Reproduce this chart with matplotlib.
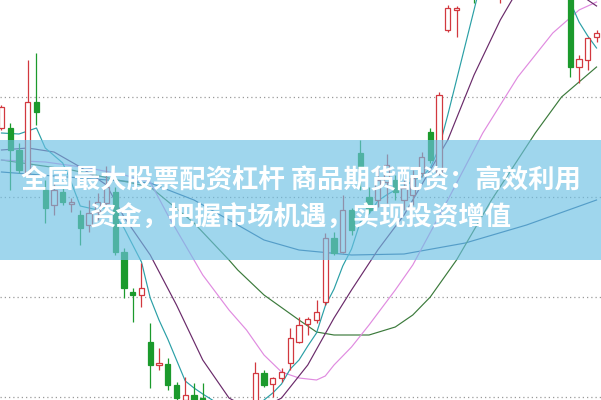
"""Candlestick chart with moving averages behind a promo banner."""

import matplotlib
matplotlib.use("Agg")
import matplotlib.pyplot as plt
import numpy as np

# one row per session: open, high, low, close
opens = [372, 372, 350, 327, 398, 310, 295, 308, 296, 285,
         275, 288, 297, 308, 248, 208, 205, 158, 135, 136,
         115, 100, 105, 102, 92, 78, 70, 80, 88, 98,
         127, 116, 122, 137, 158, 176, 180, 198, 262, 248,
         290, 347, 303, 300, 318, 320, 300, 305, 327, 368,
         327, 470, 490, 520, 560, 520, 552, 530, 570, 592,
         570, 600, 615, 590, 620, 540, 433, 440, 463]
highs = [395, 377, 357, 440, 447, 320, 317, 313, 302, 290,
         300, 307, 334, 313, 252, 212, 237, 177, 152, 142,
         118, 123, 117, 117, 97, 90, 85, 96, 98, 138,
         130, 123, 132, 172, 183, 183, 200, 267, 268, 305,
         292, 360, 313, 333, 346, 325, 320, 330, 348, 372,
         408, 495, 494, 560, 575, 560, 590, 575, 600, 600,
         610, 625, 620, 630, 630, 560, 445, 463, 470]
lows = [370, 310, 327, 324, 375, 277, 285, 295, 288, 255,
        268, 280, 293, 245, 202, 178, 193, 112, 130, 110,
        95, 96, 97, 85, 70, 62, 60, 72, 75, 94,
        113, 103, 118, 130, 157, 165, 177, 195, 245, 247,
        265, 310, 287, 293, 297, 300, 290, 295, 323, 337,
        325, 468, 463, 505, 497, 512, 540, 497, 560, 560,
        565, 590, 580, 585, 560, 423, 417, 430, 458]
closes = [393, 350, 330, 398, 388, 292, 310, 298, 298, 272,
          287, 298, 313, 248, 212, 205, 212, 135, 137, 115,
          102, 105, 100, 90, 78, 70, 80, 88, 92, 127,
          115, 122, 128, 162, 175, 181, 188, 262, 247, 290,
          270, 332, 290, 320, 335, 308, 312, 322, 343, 340,
          405, 492, 492, 550, 520, 552, 580, 570, 592, 570,
          600, 615, 590, 620, 575, 433, 441, 462, 467]

# moving averages (session index, value)
ma5_idx = [0, 2, 4, 5, 7, 8, 9, 11, 12, 13, 14, 15, 16, 17, 18, 19, 20, 21, 22,
           23, 25, 27, 28, 29, 30, 31, 32, 33, 34, 35, 36, 37, 38, 39, 40, 41,
           42, 43, 44, 45, 46, 47, 48, 49, 50, 51, 52, 53, 54, 55, 58, 61, 63,
           64, 65, 66, 67, 68]
ma5 = [367, 366, 372, 352, 337, 317, 294, 290, 293, 284, 272, 255, 238, 202,
       180, 161, 140, 119, 112, 106, 95, 86, 85, 91, 100, 107, 116, 131, 140,
       154, 167, 194, 211, 234, 251, 278, 286, 299, 305, 310, 312, 320, 323,
       332, 352, 385, 420, 455, 490, 525, 580, 590, 560, 530, 498, 478, 464, 452]

ma10_idx = [0, 3, 6, 9, 12, 14, 17, 20, 23, 26, 29, 32, 35, 38, 40, 43, 46, 49,
            51, 54, 57, 59, 62, 65, 67, 68]
ma10 = [350, 352, 348, 333, 315, 283, 245, 195, 140, 102, 88, 102, 135, 182,
        210, 250, 285, 330, 360, 425, 480, 510, 540, 515, 500, 494]

ma20_idx = [0, 5, 10, 14, 17, 19, 22, 23, 26, 28, 30, 32, 34, 36, 37, 38, 40,
            42, 45, 47, 51, 55, 59, 63, 66, 68]
ma20 = [340, 338, 332, 325, 318, 285, 240, 225, 190, 170, 145, 128, 122, 120,
        124, 135, 153, 175, 210, 235, 300, 367, 423, 467, 490, 498]

ma60_idx = [0, 8, 17, 22, 26, 27, 30, 34, 36, 38, 42, 45, 47, 49, 52, 56, 61,
            64, 66, 68]
ma60 = [340, 330, 313, 277, 240, 230, 205, 180, 168, 165, 165, 173, 185, 203,
        240, 300, 367, 403, 418, 433]

ma120_idx = [0, 9, 17, 22, 26, 30, 34, 40, 46, 53, 60, 68]
ma120 = [328, 322, 317, 300, 280, 260, 250, 245, 246, 257, 275, 300]

grid_levels = [103, 203, 303, 403]

title_lines = ["全国最大股票配资杠杆 商品期货配资：高效利用",
               "资金，把握市场机遇，实现投资增值"]

UP = "#d2383f"
DOWN = "#1b9a2c"


def draw_candles(ax):
    x = np.arange(len(opens))
    o = np.array(opens)
    h = np.array(highs)
    l = np.array(lows)
    c = np.array(closes)
    up = c >= o
    colors = np.where(up, UP, DOWN)
    ax.vlines(x, l, h, colors=colors, linewidth=0.9, zorder=2)
    bottom = np.minimum(o, c)
    height = np.maximum(np.abs(c - o), 1.2)
    ax.bar(x[up], height[up], bottom=bottom[up], width=0.62,
           facecolor="white", edgecolor=UP, linewidth=0.9, zorder=3)
    ax.bar(x[~up], height[~up], bottom=bottom[~up], width=0.62,
           facecolor=DOWN, edgecolor=DOWN, linewidth=0.9, zorder=3)


def main():
    plt.rcParams["font.family"] = ["Noto Sans CJK SC", "DejaVu Sans"]
    fig = plt.figure(figsize=(6.01, 4.0), dpi=100)
    ax = fig.add_axes([0, 0, 1, 1])

    for level in grid_levels:
        ax.axhline(level, color="#9a9a9a", linewidth=0.9,
                   linestyle=(0, (1, 2.4)), zorder=1)

    ax.plot(ma120_idx, ma120, color="#2a5f96", linewidth=0.85, zorder=2)
    ax.plot(ma60_idx, ma60, color="#3b7a3b", linewidth=0.85, zorder=2)
    ax.plot(ma20_idx, ma20, color="#e08be0", linewidth=0.85, zorder=2)
    ax.plot(ma10_idx, ma10, color="#6a2a6a", linewidth=0.85, zorder=2)
    ax.plot(ma5_idx, ma5, color="#2a9fa6", linewidth=0.85, zorder=2)

    draw_candles(ax)

    ax.set_xlim(-0.17, 68.51)
    ax.set_ylim(100, 500)
    ax.axis("off")

    # translucent banner across the middle of the chart
    ax.axhspan(240, 360, color="#6cc0e4", alpha=0.65, linewidth=0, zorder=5)
    ax.text(0.5, 0.5475, title_lines[0], transform=ax.transAxes,
            ha="center", va="center", fontsize=19, fontweight="bold",
            color="white", zorder=6)
    ax.text(0.5, 0.455, title_lines[1], transform=ax.transAxes,
            ha="center", va="center", fontsize=19, fontweight="bold",
            color="white", zorder=6)

    fig.savefig("out.png", dpi=100)
    plt.close(fig)


if __name__ == "__main__":
    main()
